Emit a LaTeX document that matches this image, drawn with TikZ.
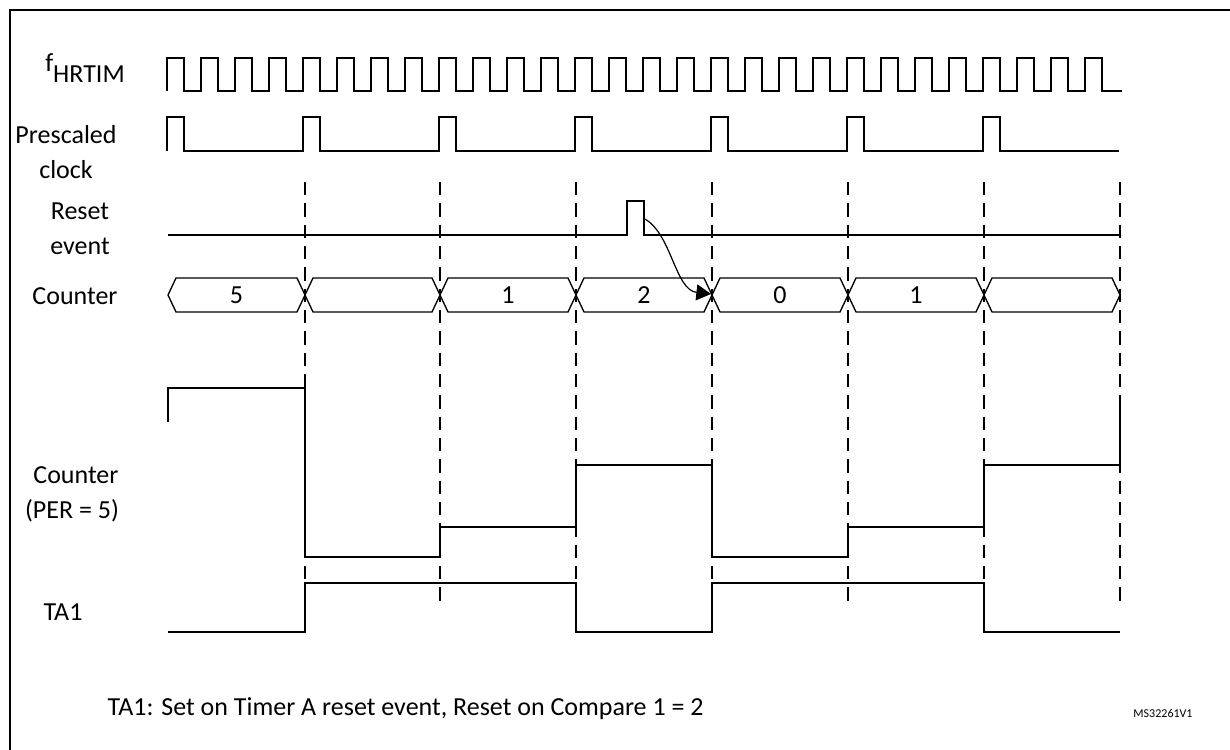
\documentclass[tikz,border=0pt]{standalone}
\usepackage{fontspec}
\setmainfont{Carlito}
\usetikzlibrary{arrows.meta}
\begin{document}
\begin{tikzpicture}[x=0.75pt,y=-0.75pt,
  sig/.style={line width=1pt},
  vdash/.style={line width=1pt,dash pattern=on 10pt off 6pt},
  lbl/.style={font=\fontsize{19.5}{26}\selectfont,align=center}]
\useasboundingbox (0,0) rectangle (1230,749);
\draw[line width=1.6pt] (10,760) -- (10,10) -- (1240,10);
% labels
\node[lbl] (lf) at (85,68) {\raisebox{0.9ex}{f}HRTIM};
\node[lbl] (lp) at (66,152) {Prescaled\\clock};
\node[lbl] (lr) at (80,229) {Reset\\event};
\node[lbl] (lc) at (75,296) {Counter};
\node[lbl] (lper) at (72,493) {\phantom{(}Counter\\(PER = 5)};
\node[lbl] (lta) at (63,612) {TA1};
\node[lbl,anchor=west] (note) at (103,709) {TA1: Set on Timer A reset event, Reset on Compare 1 = 2};
\node[font=\fontsize{9}{10}\selectfont] (ms) at (1163,713) {MS32261V1};
% fHRTIM clock
\draw[sig] (167,91) \foreach \i in {0,...,27} { -- ++(0,-33) -- ++(17,0) -- ++(0,33) -- ++(17,0) } -- (1122,91);
% prescaled clock
\draw[sig] (167,151) \foreach \i in {0,...,6} { -- ++(0,-34) -- ++(17,0) -- ++(0,34) -- ++(119,0) } ;
% dashed lines
\foreach \x in {305,440,576,712,848,984,1120} \draw[vdash] (\x,182) -- (\x,603);
% reset event
\draw[sig] (168,235) -- (627,235) -- (627,201) -- (644,201) -- (644,235) -- (1120,235);
% counter bus
\foreach \a/\b/\t in {168/305/5,305/440/,440/576/1,576/712/2,712/848/0,848/984/1,984/1120/} {
  \draw[sig] (\a,295) -- (\a+8,278) -- (\b-8,278) -- (\b,295) -- (\b-8,312) -- (\a+8,312) -- cycle;
  \node[lbl] at ({(\a+\b)/2},295) {\t};
}
\coordinate (rs) at (645,219);
\coordinate (ct) at (711,294);
\draw[line width=0.9pt,-{Triangle[length=11pt,width=12pt]}] (rs) .. controls (672,235) and (675,290) .. (ct);
% counter staircase
\draw[sig] (168,422) -- (168,388) -- (305,388) -- (305,557) -- (440,557) -- (440,527) -- (576,527) -- (576,465) -- (712,465) -- (712,557) -- (848,557) -- (848,527) -- (984,527) -- (984,465) -- (1120,465) -- (1120,405);
% TA1
\draw[sig] (168,632) -- (305,632) -- (305,583) -- (576,583) -- (576,632) -- (712,632) -- (712,583) -- (984,583) -- (984,632) -- (1120,632);
\end{tikzpicture}
\end{document}
